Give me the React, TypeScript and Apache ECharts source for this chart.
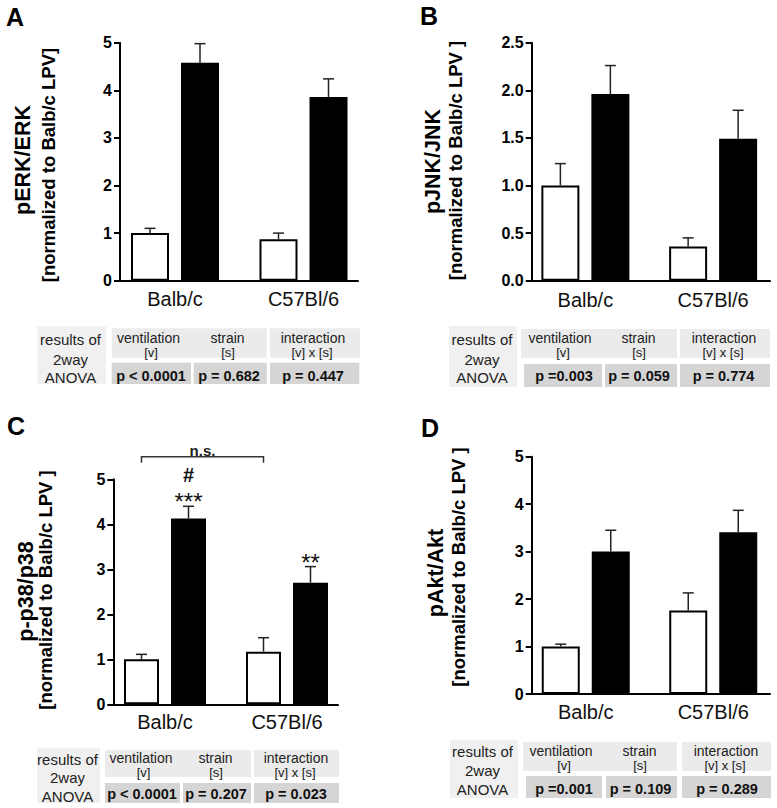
import React, { useEffect, useRef } from "react";
import * as echarts from "echarts";

const FONT = "'Liberation Sans', Arial, Helvetica, sans-serif";

const categories = ["Balb/c", "C57Bl/6"];

// Panel A: pERK/ERK
const erkLPV = [1.0, 0.87];
const erkLPVsem = [0.1, 0.13];
const erkHPV = [4.58, 3.86];
const erkHPVsem = [0.4, 0.38];
const erkTitle = ["pERK/ERK", "[normalized to Balb/c LPV]"];
const erkAxis = [0, 5, 1];
const erkAnova = ["p < 0.0001", "p = 0.682", "p = 0.447"];

// Panel B: pJNK/JNK
const jnkLPV = [1.0, 0.36];
const jnkLPVsem = [0.23, 0.09];
const jnkHPV = [1.96, 1.49];
const jnkHPVsem = [0.3, 0.3];
const jnkTitle = ["pJNK/JNK", "[normalized to Balb/c LPV ]"];
const jnkAxis = [0, 2.5, 0.5];
const jnkAnova = ["p =0.003", "p = 0.059", "p = 0.774"];

// Panel C: p-p38/p38
const p38LPV = [1.0, 1.17];
const p38LPVsem = [0.11, 0.31];
const p38HPV = [4.13, 2.7];
const p38HPVsem = [0.27, 0.36];
const p38Title = ["p-p38/p38", "[normalized to Balb/c LPV ]"];
const p38Axis = [0, 5, 1];
const p38Anova = ["p < 0.0001", "p = 0.207", "p = 0.023"];
const p38Stars = ["***", "**"];
const p38Hash = ["#", ""];
const p38Bracket = [0, 1, 5.5];
const p38BracketLabel = "n.s.";

// Panel D: pAkt/Akt
const aktLPV = [1.0, 1.76];
const aktLPVsem = [0.05, 0.37];
const aktHPV = [3.0, 3.41];
const aktHPVsem = [0.45, 0.46];
const aktTitle = ["pAkt/Akt", "[normalized to Balb/c LPV ]"];
const aktAxis = [0, 5, 1];
const aktAnova = ["p =0.001", "p = 0.109", "p = 0.289"];

const anovaRowLabel = ["results of", "2way", "ANOVA"];
const anovaHeads = ["ventilation", "strain", "interaction"];
const anovaSubs = ["[v]", "[s]", "[v] x [s]"];

const panelData = [
  { letter: "A", lpv: erkLPV, lpvSem: erkLPVsem, hpv: erkHPV, hpvSem: erkHPVsem, title: erkTitle, axis: erkAxis, anova: erkAnova, dec: 0 },
  { letter: "B", lpv: jnkLPV, lpvSem: jnkLPVsem, hpv: jnkHPV, hpvSem: jnkHPVsem, title: jnkTitle, axis: jnkAxis, anova: jnkAnova, dec: 1 },
  { letter: "C", lpv: p38LPV, lpvSem: p38LPVsem, hpv: p38HPV, hpvSem: p38HPVsem, title: p38Title, axis: p38Axis, anova: p38Anova, dec: 0 },
  { letter: "D", lpv: aktLPV, lpvSem: aktLPVsem, hpv: aktHPV, hpvSem: aktHPVsem, title: aktTitle, axis: aktAxis, anova: aktAnova, dec: 0 },
];

// layout (positions only)
const layouts = [
  {
    letterXY: [15, 16.5],
    ax: { left: 120, right: 358, top: 42.7, bottom: 280.7 },
    bx: { left: 110.75, right: 367.75 },
    barW: 38, gap: 12, labelMargin: 8,
    t1: [23.3, 160], t2: [48.3, 165],
    tb: {
      res: [37.5, 106], rowY: [326.5, 384], hdrY: [328.3, 357.7], valY: [362.7, 384],
      hdr: [[111.7, 266.7], [270, 360]], val: [[111.7, 191], [193.7, 266.7], [270, 359.3]],
      resTx: 70.5, resTy: [339, 359, 377], hdrTx: [148.5, 227.5, 313], subTx: [151, 228, 312], hdrTy: [337.7, 352.5],
      valTx: [151, 229, 313], valTy: 375.5,
    },
  },
  {
    letterXY: [429, 16],
    ax: { left: 531.7, right: 770, top: 42.7, bottom: 280.7 },
    bx: { left: 521.5, right: 778.2 },
    barW: 38, gap: 12, labelMargin: 9,
    t1: [433, 161.5], t2: [455.5, 160.5],
    tb: {
      res: [449, 517], rowY: [326, 387], hdrY: [329, 358], valY: [364, 387],
      hdr: [[521, 677], [680, 770]], val: [[524, 602], [605, 677], [680, 770]],
      resTx: 482, resTy: [339, 359, 377], hdrTx: [560, 638.5, 724], subTx: [563, 639, 723], hdrTy: [337.5, 352.5],
      valTx: [564, 639, 723.5], valTy: 376,
    },
  },
  {
    letterXY: [16, 425.5],
    ax: { left: 113.3, right: 338, top: 479.3, bottom: 704.3 },
    bx: { left: 104, right: 348 },
    barW: 35, gap: 12, labelMargin: 8,
    t1: [26, 591.5], t2: [45, 590],
    tb: {
      res: [37, 100], rowY: [748, 803], hdrY: [750, 777], valY: [783, 803],
      hdr: [[105, 251], [254, 339]], val: [[105, 180], [183, 251], [254, 339]],
      resTx: 67.5, resTy: [759, 777, 796], hdrTx: [141, 215.5, 296], subTx: [143.5, 216, 295], hdrTy: [758, 772],
      valTx: [142, 216, 296], valTy: 794,
    },
  },
  {
    letterXY: [430, 427.5],
    ax: { left: 531.7, right: 770, top: 456.7, bottom: 694 },
    bx: { left: 522, right: 780 },
    barW: 38, gap: 12, labelMargin: 8,
    t1: [436, 573], t2: [458.5, 567],
    tb: {
      res: [450, 518], rowY: [740, 798], hdrY: [742, 771], valY: [776, 798],
      hdr: [[523, 677], [682, 771]], val: [[526, 602], [606, 677], [682, 771]],
      resTx: 482.5, resTy: [751, 770, 789], hdrTx: [561, 639.5, 726], subTx: [564, 640, 725], hdrTy: [751, 765],
      valTx: [564, 640.5, 727], valTy: 789,
    },
  },
];

function txt(x: number, y: number, text: string, size: number, weight: string, fill: string, rotation = 0) {
  return {
    type: "text",
    x, y, rotation,
    style: {
      text, fill,
      font: `${weight} ${size}px ${FONT}`,
      align: "center", verticalAlign: "middle",
      textAlign: "center", textVerticalAlign: "middle",
    },
  };
}

function buildOption() {
  const grid: any[] = [];
  const xAxis: any[] = [];
  const yAxis: any[] = [];
  const series: any[] = [];
  const graphic: any[] = [];

  panelData.forEach((pd, k) => {
    const lay = layouts[k];
    const [ymin, ymax, yint] = pd.axis;
    const gAxis = 2 * k;
    const gBar = 2 * k + 1;
    grid.push({
      left: lay.ax.left, top: lay.ax.top,
      width: lay.ax.right - lay.ax.left, height: lay.ax.bottom - lay.ax.top,
      containLabel: false,
    });
    grid.push({
      left: lay.bx.left, top: lay.ax.top,
      width: lay.bx.right - lay.bx.left, height: lay.ax.bottom - lay.ax.top,
      containLabel: false,
    });
    xAxis.push({
      type: "category", gridIndex: gAxis, data: categories,
      axisLine: { show: true, lineStyle: { color: "#000", width: 2 } },
      axisTick: { show: false }, axisLabel: { show: false }, splitLine: { show: false },
    });
    xAxis.push({
      type: "category", gridIndex: gBar, data: categories,
      axisLine: { show: false }, axisTick: { show: false }, splitLine: { show: false },
      axisLabel: { show: true, interval: 0, fontSize: 20, fontFamily: FONT, color: "#111", margin: lay.labelMargin },
    });
    yAxis.push({
      type: "value", gridIndex: gAxis, min: ymin, max: ymax, interval: yint,
      axisLine: { show: true, lineStyle: { color: "#000", width: 2 } },
      axisTick: { show: true, length: 6, lineStyle: { color: "#000", width: 2 } },
      splitLine: { show: false },
      axisLabel: {
        fontSize: 16, fontWeight: "bold", fontFamily: FONT, color: "#000", margin: 8,
        formatter: (v: number) => v.toFixed(pd.dec),
      },
    });
    yAxis.push({
      type: "value", gridIndex: gBar, min: ymin, max: ymax, interval: yint, show: false,
      splitLine: { show: false },
    });

    const gapPct = ((lay.gap / lay.barW) * 100).toFixed(2) + "%";
    const off = (lay.barW + lay.gap) / 2;
    series.push({
      type: "bar", name: "LPV", xAxisIndex: gBar, yAxisIndex: gBar, data: pd.lpv,
      barWidth: lay.barW, barGap: gapPct,
      itemStyle: { color: "#fff", borderColor: "#000", borderWidth: 2 },
    });
    series.push({
      type: "bar", name: "HPV", xAxisIndex: gBar, yAxisIndex: gBar, data: pd.hpv,
      barWidth: lay.barW, barGap: gapPct,
      itemStyle: { color: "#000", borderColor: "#000", borderWidth: 2 },
    });
    const errSeries = (means: number[], sems: number[], dx: number) => ({
      type: "custom", xAxisIndex: gBar, yAxisIndex: gBar, clip: false, z: 4,
      data: means.map((m, i) => [i, m, m + sems[i]]),
      renderItem: (params: any, api: any) => {
        const base = api.coord([api.value(0), api.value(1)]);
        const top = api.coord([api.value(0), api.value(2)]);
        const x = base[0] + dx;
        const st = { stroke: "#222", lineWidth: 1.5 };
        return {
          type: "group",
          children: [
            { type: "line", shape: { x1: x, y1: base[1], x2: x, y2: top[1] }, style: st },
            { type: "line", shape: { x1: x - 5.5, y1: top[1], x2: x + 5.5, y2: top[1] }, style: st },
          ],
        };
      },
    });
    series.push(errSeries(pd.lpv, pd.lpvSem, -off));
    series.push(errSeries(pd.hpv, pd.hpvSem, off));

    if (k === 2) {
      series.push({
        type: "custom", xAxisIndex: gBar, yAxisIndex: gBar, clip: false, z: 5,
        data: pd.hpv.map((m, i) => [i, m + pd.hpvSem[i]]),
        renderItem: (params: any, api: any) => {
          const i = params.dataIndex;
          const p = api.coord([api.value(0), api.value(1)]);
          const x = p[0] + off;
          const children: any[] = [];
          if (p38Stars[i]) children.push(txt(x, p[1] - 4.5, p38Stars[i], 24, "normal", "#111"));
          if (p38Hash[i]) children.push(txt(x, p[1] - 31, p38Hash[i], 20, "bold", "#111"));
          return { type: "group", children };
        },
      });
      series.push({
        type: "custom", xAxisIndex: gBar, yAxisIndex: gBar, clip: false, z: 5,
        data: [p38Bracket],
        renderItem: (params: any, api: any) => {
          const a = api.coord([api.value(0), api.value(2)]);
          const b = api.coord([api.value(1), api.value(2)]);
          const x1 = a[0] - off;
          const x2 = b[0] - off;
          const y = a[1];
          return {
            type: "group",
            children: [
              {
                type: "polyline",
                shape: { points: [[x1, y + 6], [x1, y], [x2, y], [x2, y + 6]] },
                style: { stroke: "#333", lineWidth: 1.5, fill: null },
              },
              txt((x1 + x2) / 2, y - 6, p38BracketLabel, 15, "bold", "#222"),
            ],
          };
        },
      });
    }

    graphic.push(txt(lay.letterXY[0], lay.letterXY[1], pd.letter, 25, "bold", "#000"));
    graphic.push(txt(lay.t1[0], lay.t1[1], pd.title[0], 21.5, "bold", "#000", Math.PI / 2));
    graphic.push(txt(lay.t2[0], lay.t2[1], pd.title[1], 18.5, "bold", "#000", Math.PI / 2));

    const tb = lay.tb;
    const rect = (x1: number, x2: number, y1: number, y2: number, fill: string) => ({
      type: "rect", shape: { x: x1, y: y1, width: x2 - x1, height: y2 - y1 }, style: { fill },
    });
    graphic.push(rect(tb.res[0], tb.res[1], tb.rowY[0], tb.rowY[1], "#f0f0f0"));
    tb.hdr.forEach((h) => graphic.push(rect(h[0], h[1], tb.hdrY[0], tb.hdrY[1], "#ebebeb")));
    tb.val.forEach((v) => graphic.push(rect(v[0], v[1], tb.valY[0], tb.valY[1], "#d5d5d5")));
    anovaRowLabel.forEach((s, i) => graphic.push(txt(tb.resTx, tb.resTy[i], s, 15, "normal", "#222")));
    anovaHeads.forEach((s, i) => {
      graphic.push(txt(tb.hdrTx[i], tb.hdrTy[0], s, 14, "normal", "#222"));
      graphic.push(txt(tb.subTx[i], tb.hdrTy[1], anovaSubs[i], 13, "normal", "#222"));
    });
    pd.anova.forEach((s, i) => graphic.push(txt(tb.valTx[i], tb.valTy, s, 14.5, "bold", "#111")));
  });

  return {
    animation: false,
    backgroundColor: "#fff",
    grid, xAxis, yAxis, series, graphic,
  };
}

export default function App() {
  const ref = useRef<HTMLDivElement>(null);
  useEffect(() => {
    if (!ref.current) return;
    const chart = echarts.init(ref.current, undefined, { renderer: "svg" });
    chart.setOption(buildOption() as any);
    return () => chart.dispose();
  }, []);
  return (
    <div
      ref={ref}
      style={{ position: "fixed", left: 0, top: 0, width: 777, height: 808, background: "#fff" }}
    />
  );
}
